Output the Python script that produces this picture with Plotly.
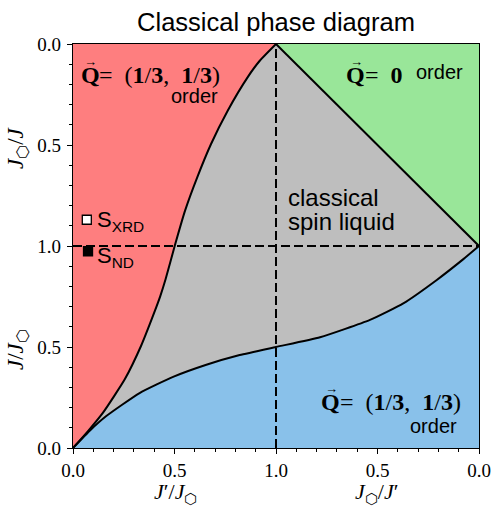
import plotly.graph_objects as go

# --- data ---
# red/grey boundary, from (0,0) to (1,2)
curve_a_x = [0.0, 0.075, 0.148, 0.255, 0.335, 0.40, 0.43, 0.456, 0.501, 0.552, 0.612, 0.68, 0.762, 0.86, 0.92, 1.0]
curve_a_y = [0.0, 0.085, 0.175, 0.34, 0.505, 0.67, 0.752, 0.835, 1.0, 1.175, 1.34, 1.505, 1.67, 1.835, 1.917, 2.0]
# grey/blue boundary, from (0,0) to (2,1)
curve_b_x = [0.0, 0.085, 0.164, 0.328, 0.493, 0.657, 0.821, 1.0, 1.217, 1.463, 1.627, 1.792, 1.923, 2.0]
curve_b_y = [0.0, 0.088, 0.158, 0.272, 0.352, 0.412, 0.46, 0.5, 0.548, 0.634, 0.716, 0.832, 0.935, 1.0]
# grey/green boundary
curve_c_x = [1.0, 2.0]
curve_c_y = [2.0, 1.0]

samples = ["S<sub>XRD</sub>", "S<sub>ND</sub>"]
sample_x = [0.068, 0.074]
sample_y = [1.13, 0.974]
sample_fill = ["white", "black"]

tick_vals = [0.0, 0.5, 1.0, 1.5, 2.0]
tick_text = ["0.0", "0.5", "1.0", "0.5", "0.0"]

RED = "#FE7E7F"
GREY = "#BEBEBE"
GREEN = "#99E699"
BLUE = "#89C1EA"

# plot-area geometry in pixels
L, R, T, B = 73, 479, 44, 448
W, H = 491, 507

fig = go.Figure()

def poly(xs, ys, color):
    fig.add_trace(go.Scatter(x=xs, y=ys, fill="toself", fillcolor=color, mode="lines",
                             line=dict(width=0, color=color), hoverinfo="skip", showlegend=False))

poly(curve_a_x + [0.0, 0.0], curve_a_y + [2.0, 0.0], RED)
poly(curve_c_x + [2.0, 1.0], curve_c_y + [2.0, 2.0], GREEN)
poly(curve_b_x + [2.0, 0.0], curve_b_y + [0.0, 0.0], BLUE)
poly(curve_a_x + curve_c_x[1:] + curve_b_x[::-1], curve_a_y + curve_c_y[1:] + curve_b_y[::-1], GREY)

dash = dict(color="black", width=2, dash="9px,4px")
fig.add_trace(go.Scatter(x=[1.0, 1.0], y=[0.0, 2.0], mode="lines", line=dash, showlegend=False, hoverinfo="skip"))
fig.add_trace(go.Scatter(x=[0.0, 2.0], y=[1.0, 1.0], mode="lines", line=dash, showlegend=False, hoverinfo="skip"))

for xs, ys in [(curve_a_x, curve_a_y), (curve_b_x, curve_b_y), (curve_c_x, curve_c_y)]:
    fig.add_trace(go.Scatter(x=xs, y=ys, mode="lines",
                             line=dict(color="black", width=2, shape="spline", smoothing=0.5),
                             showlegend=False, hoverinfo="skip"))

fig.add_trace(go.Scatter(x=sample_x, y=sample_y, mode="markers",
                         marker=dict(symbol="square", size=9, color=sample_fill,
                                     line=dict(color="black", width=1.3)),
                         showlegend=False, hoverinfo="skip", cliponaxis=False))

SERIF = "Liberation Serif"
SANS = "Liberation Sans"
ann = []
def add(text, px, py, size, family, xanchor="left", angle=0, align="left"):
    ann.append(dict(text=text, x=(px - L) / (R - L), y=(B - py) / (B - T), xref="paper", yref="paper",
                    showarrow=False, xanchor=xanchor, yanchor="middle", textangle=angle, align=align,
                    borderpad=0, font=dict(size=size, family=family, color="black")))

def qvec(px, py):
    add("<b>Q</b>", px, py, 24, SERIF, xanchor="center")
    add("→", px + 0.5, py - 14, 13, SERIF, xanchor="center")

# top-left
qvec(90, 75)
add("=  (<b>1</b>/<b>3</b>,  <b>1</b>/<b>3</b>)", 98, 75, 24, SERIF)
add("order", 194, 96, 20, SANS, xanchor="center")
# top-right
qvec(355.5, 75)
add("=  <b>0</b>", 364, 75, 24, SERIF)
add("order", 439, 72, 20, SANS, xanchor="center")
# bottom-right
qvec(330.5, 402)
add("=  (<b>1</b>/<b>3</b>,  <b>1</b>/<b>3</b>)", 339, 402, 24, SERIF)
add("order", 433.5, 426, 20, SANS, xanchor="center")
# spin liquid
add("classical", 287, 197, 24, SANS)
add("spin liquid", 287, 222, 24, SANS)
# samples
add(samples[0], 96, 221, 22, SANS)
add(samples[1], 96, 257, 22, SANS)

# axis labels
add("<i>J</i>′/<i>J</i><sub>⬡</sub>", 175, 493, 22, SERIF, xanchor="center")
add("<i>J</i><sub>⬡</sub>/<i>J</i>′", 376, 493, 22, SERIF, xanchor="center")
add("<i>J</i><sub>⬡</sub>/<i>J</i>", 17, 148, 23, SERIF, xanchor="center", angle=-90)
add("<i>J</i>/<i>J</i><sub>⬡</sub>", 17, 350, 23, SERIF, xanchor="center", angle=-90)

axis_common = dict(range=[0, 2], tickvals=tick_vals, ticktext=tick_text, ticks="outside",
                   ticklen=5, tickwidth=1.3, tickcolor="black", showline=True, linecolor="black",
                   linewidth=1.3, mirror=True, showgrid=False, zeroline=False, automargin=False,
                   tickfont=dict(family=SERIF, size=19, color="black"),
                   minor=dict(dtick=0.1, tick0=0, ticks="outside", ticklen=3, tickwidth=1, tickcolor="black",
                              showgrid=False))

fig.update_layout(
    template="none",
    width=W, height=H,
    margin=dict(l=L, r=W - R, t=T, b=H - B, autoexpand=False),
    plot_bgcolor="white", paper_bgcolor="white",
    title=dict(text="Classical phase diagram", x=((L + R) / 2) / W, xanchor="center",
               y=1 - 22 / H, yanchor="middle", yref="container", automargin=False,
               font=dict(family=SANS, size=25.5, color="black")),
    xaxis=dict(**axis_common, ticklabelstandoff=0),
    yaxis=dict(**axis_common, ticklabelstandoff=2),
    annotations=ann,
)

fig.write_html("out.html", config={"displayModeBar": False},
               post_script="document.body.style.margin='0px';")
